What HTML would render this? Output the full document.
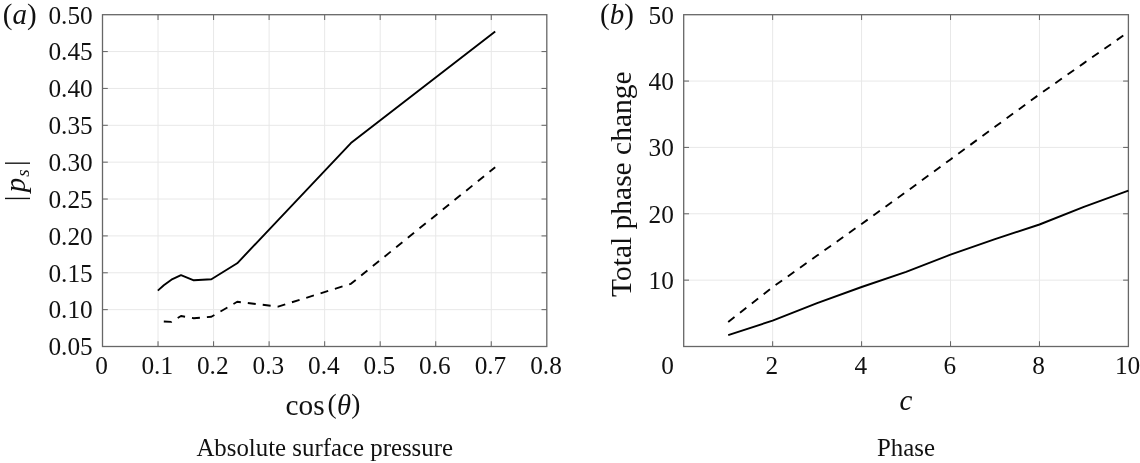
<!DOCTYPE html>
<html lang="en"><head><meta charset="utf-8"><title>Figure</title>
<style>html,body{margin:0;padding:0;background:#fff}svg{display:block}text{fill:#111}</style></head><body>
<svg width="1140" height="463" viewBox="0 0 1140 463" font-family="'Liberation Serif', 'Times New Roman', serif">
<rect width="1140" height="463" fill="#fff"/>
<line x1="158.04" y1="14.7" x2="158.04" y2="346.5" stroke="#e8e8e8" stroke-width="1"/>
<line x1="213.57" y1="14.7" x2="213.57" y2="346.5" stroke="#e8e8e8" stroke-width="1"/>
<line x1="269.11" y1="14.7" x2="269.11" y2="346.5" stroke="#e8e8e8" stroke-width="1"/>
<line x1="324.65" y1="14.7" x2="324.65" y2="346.5" stroke="#e8e8e8" stroke-width="1"/>
<line x1="380.19" y1="14.7" x2="380.19" y2="346.5" stroke="#e8e8e8" stroke-width="1"/>
<line x1="435.72" y1="14.7" x2="435.72" y2="346.5" stroke="#e8e8e8" stroke-width="1"/>
<line x1="491.26" y1="14.7" x2="491.26" y2="346.5" stroke="#e8e8e8" stroke-width="1"/>
<line x1="102.5" y1="309.63" x2="546.8" y2="309.63" stroke="#e8e8e8" stroke-width="1"/>
<line x1="102.5" y1="272.77" x2="546.8" y2="272.77" stroke="#e8e8e8" stroke-width="1"/>
<line x1="102.5" y1="235.90" x2="546.8" y2="235.90" stroke="#e8e8e8" stroke-width="1"/>
<line x1="102.5" y1="199.03" x2="546.8" y2="199.03" stroke="#e8e8e8" stroke-width="1"/>
<line x1="102.5" y1="162.17" x2="546.8" y2="162.17" stroke="#e8e8e8" stroke-width="1"/>
<line x1="102.5" y1="125.30" x2="546.8" y2="125.30" stroke="#e8e8e8" stroke-width="1"/>
<line x1="102.5" y1="88.43" x2="546.8" y2="88.43" stroke="#e8e8e8" stroke-width="1"/>
<line x1="102.5" y1="51.57" x2="546.8" y2="51.57" stroke="#e8e8e8" stroke-width="1"/>
<line x1="158.04" y1="346.5" x2="158.04" y2="341.2" stroke="#676767" stroke-width="1.05"/>
<line x1="158.04" y1="14.7" x2="158.04" y2="20.0" stroke="#676767" stroke-width="1.05"/>
<line x1="213.57" y1="346.5" x2="213.57" y2="341.2" stroke="#676767" stroke-width="1.05"/>
<line x1="213.57" y1="14.7" x2="213.57" y2="20.0" stroke="#676767" stroke-width="1.05"/>
<line x1="269.11" y1="346.5" x2="269.11" y2="341.2" stroke="#676767" stroke-width="1.05"/>
<line x1="269.11" y1="14.7" x2="269.11" y2="20.0" stroke="#676767" stroke-width="1.05"/>
<line x1="324.65" y1="346.5" x2="324.65" y2="341.2" stroke="#676767" stroke-width="1.05"/>
<line x1="324.65" y1="14.7" x2="324.65" y2="20.0" stroke="#676767" stroke-width="1.05"/>
<line x1="380.19" y1="346.5" x2="380.19" y2="341.2" stroke="#676767" stroke-width="1.05"/>
<line x1="380.19" y1="14.7" x2="380.19" y2="20.0" stroke="#676767" stroke-width="1.05"/>
<line x1="435.72" y1="346.5" x2="435.72" y2="341.2" stroke="#676767" stroke-width="1.05"/>
<line x1="435.72" y1="14.7" x2="435.72" y2="20.0" stroke="#676767" stroke-width="1.05"/>
<line x1="491.26" y1="346.5" x2="491.26" y2="341.2" stroke="#676767" stroke-width="1.05"/>
<line x1="491.26" y1="14.7" x2="491.26" y2="20.0" stroke="#676767" stroke-width="1.05"/>
<line x1="102.5" y1="309.63" x2="107.8" y2="309.63" stroke="#676767" stroke-width="1.05"/>
<line x1="546.8" y1="309.63" x2="541.5" y2="309.63" stroke="#676767" stroke-width="1.05"/>
<line x1="102.5" y1="272.77" x2="107.8" y2="272.77" stroke="#676767" stroke-width="1.05"/>
<line x1="546.8" y1="272.77" x2="541.5" y2="272.77" stroke="#676767" stroke-width="1.05"/>
<line x1="102.5" y1="235.90" x2="107.8" y2="235.90" stroke="#676767" stroke-width="1.05"/>
<line x1="546.8" y1="235.90" x2="541.5" y2="235.90" stroke="#676767" stroke-width="1.05"/>
<line x1="102.5" y1="199.03" x2="107.8" y2="199.03" stroke="#676767" stroke-width="1.05"/>
<line x1="546.8" y1="199.03" x2="541.5" y2="199.03" stroke="#676767" stroke-width="1.05"/>
<line x1="102.5" y1="162.17" x2="107.8" y2="162.17" stroke="#676767" stroke-width="1.05"/>
<line x1="546.8" y1="162.17" x2="541.5" y2="162.17" stroke="#676767" stroke-width="1.05"/>
<line x1="102.5" y1="125.30" x2="107.8" y2="125.30" stroke="#676767" stroke-width="1.05"/>
<line x1="546.8" y1="125.30" x2="541.5" y2="125.30" stroke="#676767" stroke-width="1.05"/>
<line x1="102.5" y1="88.43" x2="107.8" y2="88.43" stroke="#676767" stroke-width="1.05"/>
<line x1="546.8" y1="88.43" x2="541.5" y2="88.43" stroke="#676767" stroke-width="1.05"/>
<line x1="102.5" y1="51.57" x2="107.8" y2="51.57" stroke="#676767" stroke-width="1.05"/>
<line x1="546.8" y1="51.57" x2="541.5" y2="51.57" stroke="#676767" stroke-width="1.05"/>
<rect x="102.5" y="14.7" width="444.30" height="331.8" fill="none" stroke="#676767" stroke-width="1.3"/>
<text x="92.7" y="355.30" font-size="25.3" text-anchor="end">0.05</text>
<text x="92.7" y="318.43" font-size="25.3" text-anchor="end">0.10</text>
<text x="92.7" y="281.57" font-size="25.3" text-anchor="end">0.15</text>
<text x="92.7" y="244.70" font-size="25.3" text-anchor="end">0.20</text>
<text x="92.7" y="207.83" font-size="25.3" text-anchor="end">0.25</text>
<text x="92.7" y="170.97" font-size="25.3" text-anchor="end">0.30</text>
<text x="92.7" y="134.10" font-size="25.3" text-anchor="end">0.35</text>
<text x="92.7" y="97.23" font-size="25.3" text-anchor="end">0.40</text>
<text x="92.7" y="60.37" font-size="25.3" text-anchor="end">0.45</text>
<text x="92.7" y="23.50" font-size="25.3" text-anchor="end">0.50</text>
<text x="101.70" y="374.4" font-size="25.3" text-anchor="middle">0</text>
<text x="157.24" y="374.4" font-size="25.3" text-anchor="middle">0.1</text>
<text x="212.77" y="374.4" font-size="25.3" text-anchor="middle">0.2</text>
<text x="268.31" y="374.4" font-size="25.3" text-anchor="middle">0.3</text>
<text x="323.85" y="374.4" font-size="25.3" text-anchor="middle">0.4</text>
<text x="379.39" y="374.4" font-size="25.3" text-anchor="middle">0.5</text>
<text x="434.92" y="374.4" font-size="25.3" text-anchor="middle">0.6</text>
<text x="490.46" y="374.4" font-size="25.3" text-anchor="middle">0.7</text>
<text x="546.00" y="374.4" font-size="25.3" text-anchor="middle">0.8</text>
<polyline points="157.8,290.6 163.8,285.3 171.4,279.7 181.0,275.1 193.8,280.3 211.4,279.2 237.2,263.3 278.1,220.1 350.9,143.1 495.2,31.5" fill="none" stroke="#000" stroke-width="1.9" stroke-linejoin="round"/>
<polyline points="163.8,321.5 171.4,321.9 181.0,316.0 193.8,318.2 211.4,316.7 237.2,301.8 278.1,306.6 350.9,283.8 495.2,167.2" fill="none" stroke="#000" stroke-width="1.9" stroke-dasharray="8 7" stroke-linejoin="round"/>
<text x="2.8" y="24.2" font-size="29"><tspan>(</tspan><tspan font-style="italic">a</tspan><tspan>)</tspan></text>
<text y="414.7" font-size="29.3"><tspan x="285.6">cos</tspan><tspan x="327.6" dy="-1.3" font-size="27.4">(</tspan><tspan x="337.1" dy="1.3" font-size="28.6" font-style="italic">θ</tspan><tspan x="351.3" dy="-1.3" font-size="27.4">)</tspan></text>
<text x="324.7" y="455.5" font-size="24.85" text-anchor="middle">Absolute surface pressure</text>
<text transform="translate(24.3,180.5) rotate(-90)" font-size="29"><tspan x="-20.75" font-size="28">|</tspan><tspan x="-11.85" dy="1" font-style="italic">p</tspan><tspan font-style="italic" font-size="19" dx="1" dy="4.0">s</tspan><tspan x="14.45" dy="-5.0" font-size="28">|</tspan></text>
<line x1="772.64" y1="14.7" x2="772.64" y2="346.5" stroke="#e8e8e8" stroke-width="1"/>
<line x1="861.58" y1="14.7" x2="861.58" y2="346.5" stroke="#e8e8e8" stroke-width="1"/>
<line x1="950.52" y1="14.7" x2="950.52" y2="346.5" stroke="#e8e8e8" stroke-width="1"/>
<line x1="1039.46" y1="14.7" x2="1039.46" y2="346.5" stroke="#e8e8e8" stroke-width="1"/>
<line x1="683.7" y1="280.14" x2="1128.4" y2="280.14" stroke="#e8e8e8" stroke-width="1"/>
<line x1="683.7" y1="213.78" x2="1128.4" y2="213.78" stroke="#e8e8e8" stroke-width="1"/>
<line x1="683.7" y1="147.42" x2="1128.4" y2="147.42" stroke="#e8e8e8" stroke-width="1"/>
<line x1="683.7" y1="81.06" x2="1128.4" y2="81.06" stroke="#e8e8e8" stroke-width="1"/>
<line x1="772.64" y1="346.5" x2="772.64" y2="341.2" stroke="#676767" stroke-width="1.05"/>
<line x1="772.64" y1="14.7" x2="772.64" y2="20.0" stroke="#676767" stroke-width="1.05"/>
<line x1="861.58" y1="346.5" x2="861.58" y2="341.2" stroke="#676767" stroke-width="1.05"/>
<line x1="861.58" y1="14.7" x2="861.58" y2="20.0" stroke="#676767" stroke-width="1.05"/>
<line x1="950.52" y1="346.5" x2="950.52" y2="341.2" stroke="#676767" stroke-width="1.05"/>
<line x1="950.52" y1="14.7" x2="950.52" y2="20.0" stroke="#676767" stroke-width="1.05"/>
<line x1="1039.46" y1="346.5" x2="1039.46" y2="341.2" stroke="#676767" stroke-width="1.05"/>
<line x1="1039.46" y1="14.7" x2="1039.46" y2="20.0" stroke="#676767" stroke-width="1.05"/>
<line x1="683.7" y1="280.14" x2="689.0" y2="280.14" stroke="#676767" stroke-width="1.05"/>
<line x1="1128.4" y1="280.14" x2="1123.1000000000001" y2="280.14" stroke="#676767" stroke-width="1.05"/>
<line x1="683.7" y1="213.78" x2="689.0" y2="213.78" stroke="#676767" stroke-width="1.05"/>
<line x1="1128.4" y1="213.78" x2="1123.1000000000001" y2="213.78" stroke="#676767" stroke-width="1.05"/>
<line x1="683.7" y1="147.42" x2="689.0" y2="147.42" stroke="#676767" stroke-width="1.05"/>
<line x1="1128.4" y1="147.42" x2="1123.1000000000001" y2="147.42" stroke="#676767" stroke-width="1.05"/>
<line x1="683.7" y1="81.06" x2="689.0" y2="81.06" stroke="#676767" stroke-width="1.05"/>
<line x1="1128.4" y1="81.06" x2="1123.1000000000001" y2="81.06" stroke="#676767" stroke-width="1.05"/>
<rect x="683.7" y="14.7" width="444.70" height="331.8" fill="none" stroke="#676767" stroke-width="1.3"/>
<text x="673.9" y="288.94" font-size="25.3" text-anchor="end">10</text>
<text x="673.9" y="222.58" font-size="25.3" text-anchor="end">20</text>
<text x="673.9" y="156.22" font-size="25.3" text-anchor="end">30</text>
<text x="673.9" y="89.86" font-size="25.3" text-anchor="end">40</text>
<text x="673.9" y="23.50" font-size="25.3" text-anchor="end">50</text>
<text x="673.9" y="374.4" font-size="25.3" text-anchor="end">0</text>
<text x="771.84" y="374.4" font-size="25.3" text-anchor="middle">2</text>
<text x="860.78" y="374.4" font-size="25.3" text-anchor="middle">4</text>
<text x="949.72" y="374.4" font-size="25.3" text-anchor="middle">6</text>
<text x="1038.66" y="374.4" font-size="25.3" text-anchor="middle">8</text>
<text x="1127.60" y="374.4" font-size="25.3" text-anchor="middle">10</text>
<polyline points="728.2,335.2 772.6,320.6 817.1,303.2 861.6,287.0 906.1,271.8 950.5,254.7 995.0,239.2 1039.5,224.5 1083.9,206.8 1128.4,190.6" fill="none" stroke="#000" stroke-width="1.9" stroke-linejoin="round"/>
<polyline points="728.2,321.9 772.6,287.2 817.1,255.6 861.6,224.0 906.1,191.9 950.5,159.4 995.0,126.8 1039.5,94.3 1083.9,63.1 1128.4,32.0" fill="none" stroke="#000" stroke-width="1.9" stroke-dasharray="8 7" stroke-linejoin="round"/>
<text x="600" y="24.0" font-size="29"><tspan>(</tspan><tspan font-style="italic">b</tspan><tspan>)</tspan></text>
<text x="906" y="409.7" font-size="29" text-anchor="middle" font-style="italic">c</text>
<text x="906" y="455.5" font-size="24.85" text-anchor="middle">Phase</text>
<text transform="translate(631.2,184.2) rotate(-90)" font-size="29.5" text-anchor="middle">Total phase change</text>
</svg></body></html>
